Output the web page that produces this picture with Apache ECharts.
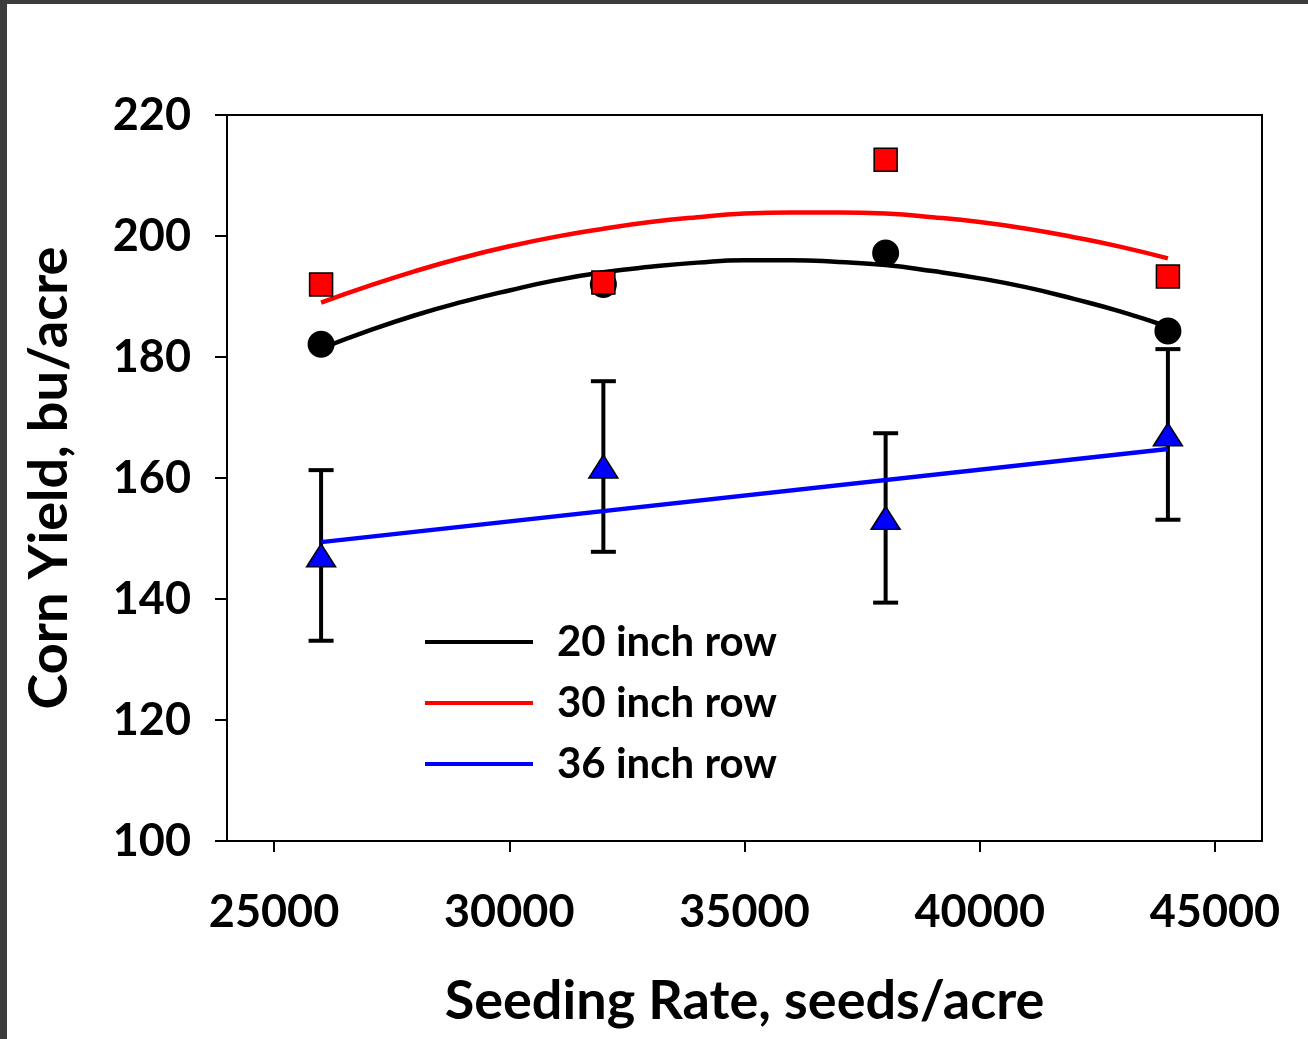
<!DOCTYPE html>
<html>
<head>
<meta charset="utf-8">
<script src="https://cdn.jsdelivr.net/npm/echarts@6/dist/echarts.min.js"></script>
<style>
  html, body { margin: 0; padding: 0; background: #fff; }
  #chart { width: 1308px; height: 1039px; }
</style>
</head>
<body>
<div id="chart"></div>
<script>
// seeding rates and measured yields
var rates = [26000, 32000, 38000, 44000];
var yield20 = [182.1, 192.0, 197.2, 184.3];
var yield30 = [192.0, 192.3, 212.6, 193.3];
var yield36 = [147.2, 161.9, 153.4, 167.2];
var err36 = [14.1, 14.1, 14.0, 14.1];

// trend lines
var fitRates = [26000, 27000, 28000, 29000, 30000, 31000, 32000, 33000, 34000, 35000,
                36000, 37000, 38000, 39000, 40000, 41000, 42000, 43000, 44000];
var fit20 = [181.4, 184.3, 186.9, 189.1, 191.0, 192.7, 194.0, 194.9, 195.6, 196.0,
             196.0, 195.7, 195.2, 194.2, 193.0, 191.5, 189.6, 187.5, 185.0];
var fit30 = [189.0, 191.7, 194.2, 196.4, 198.3, 199.9, 201.2, 202.3, 203.1, 203.7,
             203.9, 203.9, 203.7, 203.1, 202.3, 201.2, 199.8, 198.2, 196.3];
var fitRates36 = [26000, 44000];
var fit36 = [149.4, 164.8];

var xTicks = [25000, 30000, 35000, 40000, 45000];
var names = ['20 inch row', '30 inch row', '36 inch row'];

var FONT = 'Lato';

function pairs(xs, ys) {
    return xs.map(function (x, i) { return [x, ys[i]]; });
}

var chart = echarts.init(document.getElementById('chart'));

var option = {
    animation: false,
    backgroundColor: '#fff',
    textStyle: { fontFamily: FONT, fontWeight: 'bold', color: '#000' },
    graphic: [
        { type: 'rect', left: 0, top: 0, shape: { width: 7, height: 1039 }, style: { fill: '#3c3c3c' }, z: 100 },
        { type: 'rect', left: 0, top: 0, shape: { width: 1308, height: 4 }, style: { fill: '#3c3c3c' }, z: 100 }
    ],
    grid: {
        left: 227,
        top: 115,
        right: 46,
        bottom: 198,
        outerBoundsMode: 'none',
        show: true,
        borderColor: '#000',
        borderWidth: 2,
        backgroundColor: 'transparent'
    },
    legend: {
        orient: 'vertical',
        left: 425,
        top: 621,
        padding: 0,
        data: names,
        icon: 'rect',
        itemWidth: 108,
        itemHeight: 4,
        itemGap: 19,
        selectedMode: false,
        textStyle: {
            fontFamily: FONT,
            fontWeight: 'bold',
            fontSize: 42,
            lineHeight: 42,
            color: '#000',
            padding: [0, 0, 0, 19]
        }
    },
    xAxis: {
        type: 'value',
        min: 24000,
        max: 46000,
        name: 'Seeding Rate, seeds/acre',
        nameLocation: 'middle',
        nameGap: 134,
        nameTextStyle: { fontFamily: FONT, fontWeight: 'bold', fontSize: 54, color: '#000' },
        axisLine: { show: true, onZero: false, lineStyle: { color: '#000', width: 2 } },
        axisTick: { show: true, inside: false, length: 11, customValues: xTicks, lineStyle: { color: '#000', width: 2 } },
        axisLabel: {
            customValues: xTicks, margin: 49, fontFamily: FONT, fontWeight: 'bold', fontSize: 45, color: '#000',
            formatter: function (v) { return String(v); }
        },
        splitLine: { show: false }
    },
    yAxis: {
        type: 'value',
        min: 100,
        max: 220,
        interval: 20,
        name: 'Corn Yield, bu/acre',
        nameLocation: 'middle',
        nameGap: 150,
        nameTextStyle: { fontFamily: FONT, fontWeight: 'bold', fontSize: 54, color: '#000' },
        axisLine: { show: true, lineStyle: { color: '#000', width: 2 } },
        axisTick: { show: true, inside: false, length: 12, lineStyle: { color: '#000', width: 2 } },
        axisLabel: { margin: 36, fontFamily: FONT, fontWeight: 'bold', fontSize: 45, color: '#000' },
        splitLine: { show: false }
    },
    series: [
        {
            // error bars for the 36 inch row
            type: 'custom',
            name: 'err',
            z: 1,
            data: rates.map(function (x, i) { return [x, yield36[i] - err36[i], yield36[i] + err36[i]]; }),
            renderItem: function (params, api) {
                var lo = api.coord([api.value(0), api.value(1)]);
                var hi = api.coord([api.value(0), api.value(2)]);
                var w = 12.5;
                var st = { stroke: '#000', lineWidth: 4, fill: null };
                return {
                    type: 'group',
                    children: [
                        { type: 'line', shape: { x1: hi[0], y1: hi[1], x2: lo[0], y2: lo[1] }, style: st },
                        { type: 'line', shape: { x1: hi[0] - w, y1: hi[1], x2: hi[0] + w, y2: hi[1] }, style: st },
                        { type: 'line', shape: { x1: lo[0] - w, y1: lo[1], x2: lo[0] + w, y2: lo[1] }, style: st }
                    ]
                };
            }
        },
        {
            name: names[0], type: 'line', z: 2, smooth: true, showSymbol: false,
            data: pairs(fitRates, fit20),
            itemStyle: { color: '#000' },
            lineStyle: { color: '#000', width: 4.5 }
        },
        {
            name: names[1], type: 'line', z: 2, smooth: true, showSymbol: false,
            data: pairs(fitRates, fit30),
            itemStyle: { color: '#ff0000' },
            lineStyle: { color: '#ff0000', width: 4.5 }
        },
        {
            name: names[2], type: 'line', z: 2, showSymbol: false,
            data: pairs(fitRates36, fit36),
            itemStyle: { color: '#0000ff' },
            lineStyle: { color: '#0000ff', width: 4.5 }
        },
        {
            name: '20 pts', type: 'scatter', z: 3,
            symbol: 'circle', symbolSize: 27,
            data: pairs(rates, yield20),
            itemStyle: { color: '#000', opacity: 1 }
        },
        {
            name: '30 pts', type: 'scatter', z: 4,
            symbol: 'rect', symbolSize: 23,
            data: pairs(rates, yield30),
            itemStyle: { color: '#ff0000', borderColor: '#000', borderWidth: 1.5, opacity: 1 }
        },
        {
            name: '36 pts', type: 'scatter', z: 4,
            symbol: 'triangle', symbolSize: [29, 23],
            data: pairs(rates, yield36),
            itemStyle: { color: '#0000ff', borderColor: '#000', borderWidth: 1.5, opacity: 1 }
        }
    ]
};

chart.setOption(option);
</script>
</body>
</html>
